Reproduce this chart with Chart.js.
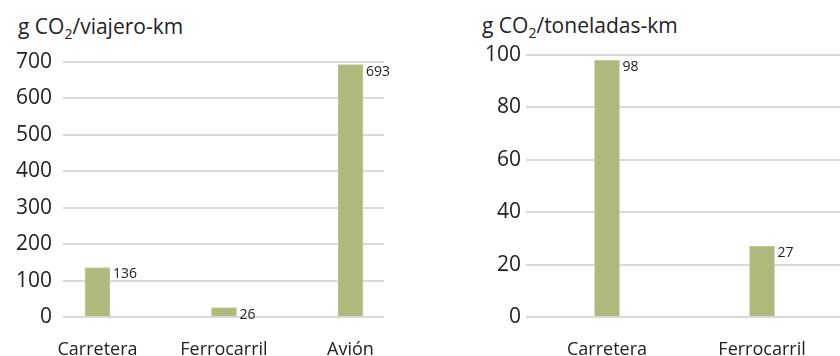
<!DOCTYPE html>
<html><head><meta charset="utf-8">
<script src="https://cdn.jsdelivr.net/npm/chart.js@4"></script>
<style>
html,body{margin:0;padding:0;background:#fff;width:840px;height:356px;overflow:hidden;position:relative;font-family:"Open Sans",sans-serif;color:#222;}
.t{position:absolute;font-size:21px;white-space:nowrap;color:#222;}
.t sub{font-size:14px;vertical-align:-5px;line-height:0;}
#w1{position:absolute;left:0;top:0;width:420px;height:356px;}
#w2{position:absolute;left:420px;top:0;width:600px;height:356px;}
</style></head><body>
<div class="t" style="left:18px;top:12px;">g CO<sub>2</sub>/viajero-km</div>
<div class="t" style="left:482px;top:11px;">g CO<sub>2</sub>/toneladas-km</div>
<div id="w1"><canvas id="c1"></canvas></div>
<div id="w2"><canvas id="c2"></canvas></div>
<script>
const categoriesPassenger = ['Carretera','Ferrocarril','Avión'];
const valuesPassenger = [136, 26, 693];
const ticksPassenger = [0,100,200,300,400,500,600,700];
const categoriesFreight = ['Carretera','Ferrocarril',''];
const valuesFreight = [98, 27, null];
const ticksFreight = [0,20,40,60,80,100];

const BAR = '#B1B87B';
const GRID = '#D9D9D9';
const TXT = '#222222';
const FONT = '"Open Sans", sans-serif';

const labelPlugin = {
  id:'valLabels',
  afterDatasetsDraw(chart){
    const ctx = chart.ctx;
    const meta = chart.getDatasetMeta(0);
    ctx.save();
    ctx.font = '14px ' + FONT;
    ctx.fillStyle = TXT;
    ctx.textAlign = 'left';
    ctx.textBaseline = 'middle';
    meta.data.forEach((el,i)=>{
      const v = chart.data.datasets[0].data[i];
      if(!v || v.y == null) return;
      ctx.fillText(String(v.y), el.x + el.width/2 + 3, el.y + 7);
    });
    ctx.restore();
  }
};

function make(id, cats, vals, ticks, opt){
  const data = vals.map((v,i)=>({x:i, y:v}));
  return new Chart(document.getElementById(id), {
    type:'bar',
    data:{datasets:[{data, backgroundColor:BAR, borderColor:'#C3C99A', borderWidth:1, barThickness:25}]},
    options:{
      responsive:true, maintainAspectRatio:false, animation:false,
      plugins:{legend:{display:false}, tooltip:{enabled:false}},
      layout:{padding:{top:opt.top, right:opt.right, bottom:0, left:0}},
      scales:{
        x:{type:'linear', min:opt.xmin, max:opt.xmax, offset:false,
          grid:{display:false, offset:false}, border:{display:false},
          afterBuildTicks(s){ s.ticks = cats.map((c,i)=>({value:i})).filter((t,i)=>cats[i]!==''); },
          afterFit(s){ s.height = 39; },
          ticks:{padding:opt.xpad, autoSkip:false, maxRotation:0, color:TXT, font:{family:FONT, size:18},
            callback:(v)=>cats[v]}
        },
        y:{min:ticks[0], max:ticks[ticks.length-1],
          grid:{color:GRID, lineWidth:2, drawTicks:false}, border:{display:false},
          afterBuildTicks(s){ s.ticks = ticks.map(v=>({value:v})); },
          afterFit(s){ s.width = opt.ywidth; },
          ticks:{padding:opt.ypad, color:TXT, font:{family:FONT, size:21}}
        }
      }
    },
    plugins:[labelPlugin]
  });
}

make('c1', categoriesPassenger, valuesPassenger, ticksPassenger,
  {top:62, right:36, ywidth:63, ypad:11, xpad:14, xmin:-0.2727, xmax:2.265});
make('c2', categoriesFreight, valuesFreight, ticksFreight,
  {top:55, right:29, ywidth:106, ypad:5, xpad:14, xmin:-0.5226, xmax:2.477});
</script>
</body></html>
